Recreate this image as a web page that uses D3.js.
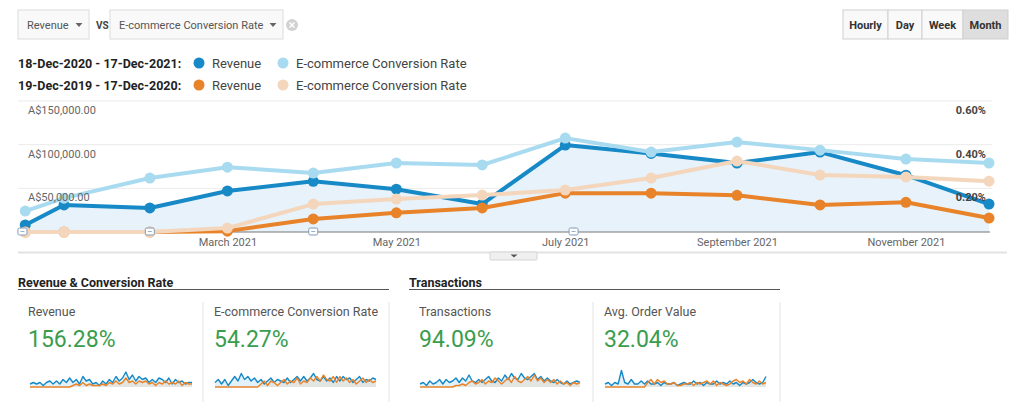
<!DOCTYPE html>
<html lang="en">
  <head>
    <meta charset="UTF-8" />
    <title>Revenue vs E-commerce Conversion Rate</title>
    <style>
      body { margin: 0; background: #fff; }
      svg text { font-family: Roboto, "Open Sans", sans-serif; }
    </style>
  </head>
  <body>
    <svg id="svg" width="1028" height="418"></svg>

    <script src="https://cdn.jsdelivr.net/npm/d3@7"></script>
    <script>
      const WIDTH = 1028;
      const HEIGHT = 418;

      // main chart data (one point per month, first is the partial start date)
      const DATES = [
        "2020-12-18", "2021-01-01", "2021-02-01", "2021-03-01", "2021-04-01",
        "2021-05-01", "2021-06-01", "2021-07-01", "2021-08-01", "2021-09-01",
        "2021-10-01", "2021-11-01", "2021-12-01",
      ];
      const REVENUE = [8000, 31000, 27500, 47000, 58000, 49000, 32000, 99500, 90000, 79000, 91500, 65000, 32000];
      const CONV_RATE = [0.096, 0.155, 0.247, 0.297, 0.27, 0.316, 0.307, 0.43, 0.366, 0.412, 0.375, 0.334, 0.316];
      const REVENUE_PREV = [0, 0, 0, 1000, 15000, 22000, 27500, 44500, 44500, 42000, 31000, 34000, 16000];
      const CONV_RATE_PREV = [0, 0, 0, 0.018, 0.128, 0.151, 0.169, 0.192, 0.247, 0.325, 0.261, 0.252, 0.233];

      const LEFT_TICKS = [50000, 100000, 150000];
      const RIGHT_TICKS = [0.2, 0.4, 0.6];
      const X_TICKS = ["2021-03-01", "2021-05-01", "2021-07-01", "2021-09-01", "2021-11-01"];
      const ANNOTATIONS = ["2020-12-17", "2021-02-01", "2021-04-01", "2021-07-04"];

      const PERIODS = ["18-Dec-2020 - 17-Dec-2021:", "19-Dec-2019 - 17-Dec-2020:"];
      const METRICS = ["Revenue", "E-commerce Conversion Rate"];
      const GRANULARITY = ["Hourly", "Day", "Week", "Month"];

      const KPI_GROUPS = ["Revenue & Conversion Rate", "Transactions"];
      const KPI_NAMES = ["Revenue", "E-commerce Conversion Rate", "Transactions", "Avg. Order Value"];
      const KPI_CHANGES = ["156.28%", "54.27%", "94.09%", "32.04%"];

      // sparklines (rough daily shape, 0-10 scale)
      const REV_SPARK = [2,3,2,3,1,3,4,2,4,2,5,3,6,3,5,2,7,4,5,2,3,1,4,2,5,3,7,4,6,10,5,8,4,7,5,6,3,5,3,6,5,3,6,2,5,3,4,2,3,3];
      const REV_SPARK_PREV = [0,0,0,0,0,0,0,0,0,0,0,0,0,1,2,1,3,1,2,1,1,1,2,1,3,2,4,2,3,6,3,4,2,4,3,4,2,3,1,3,2,4,2,3,2,4,1,3,2,2];
      const CONV_SPARK = [3,5,2,5,1,4,7,4,9,5,7,4,6,3,5,2,4,6,3,5,4,3,6,3,5,7,4,7,4,6,9,5,4,7,4,6,3,7,4,7,5,6,3,5,7,3,5,4,6,5];
      const CONV_SPARK_PREV = [0,0,0,0,0,0,0,0,0,0,0,0,0,0,2,4,1,4,3,1,3,5,2,4,3,6,2,4,3,6,4,7,4,8,5,4,7,3,7,4,6,3,5,2,4,6,3,5,3,4];
      const TRANS_SPARK = [2,3,1,4,2,3,5,2,5,3,4,6,3,6,4,8,4,3,5,3,5,7,4,3,6,4,8,5,9,6,5,9,6,5,7,9,5,7,4,6,4,3,5,3,2,4,2,3,4,3];
      const TRANS_SPARK_PREV = [0,0,0,0,0,0,0,0,0,0,0,1,1,2,1,3,4,2,3,5,2,4,3,6,4,2,4,6,3,7,4,3,5,7,4,8,4,6,3,5,3,5,2,4,2,3,1,3,2,3];
      const AOV_SPARK = [2,3,1,3,2,11,3,2,5,2,2,4,2,4,2,2,3,1,3,2,2,3,1,2,3,2,2,4,2,3,1,3,2,2,4,2,3,2,4,2,3,1,3,2,3,5,3,2,3,7];
      const AOV_SPARK_PREV = [0,0,0,0,0,0,0,0,0,0,0,0,0,3,5,2,5,3,4,2,2,3,1,1,2,2,3,1,3,2,3,4,2,4,1,3,2,1,2,4,5,3,4,2,5,3,2,4,2,3];

      const BLUE = "#1689c6";
      const LIGHT_BLUE = "#a9dbf0";
      const ORANGE = "#e8832a";
      const PEACH = "#f4d6bd";

      const parse = d3.timeParse("%Y-%m-%d");
      const svg = d3.select("#svg");

      // ---------- top controls ----------
      function dropdown(x, w, label) {
        const g = svg.append("g");
        g.append("rect").attr("x", x).attr("y", 10).attr("width", w).attr("height", 29)
          .attr("fill", "#f9f9f9").attr("stroke", "#dcdcdc");
        g.append("text").attr("x", x + 9).attr("y", 29).attr("font-size", 11)
          .attr("fill", "#555").text(label);
        const ax = x + w - 10;
        g.append("path").attr("d", `M${ax - 3.5},23 L${ax + 3.5},23 L${ax},27 Z`).attr("fill", "#666");
      }
      dropdown(18, 71, METRICS[0]);
      svg.append("text").attr("x", 96).attr("y", 28.5).attr("font-size", 10)
        .attr("font-weight", "bold").attr("fill", "#444").text("VS");
      dropdown(110, 173, METRICS[1]);
      svg.append("circle").attr("cx", 292).attr("cy", 25).attr("r", 6).attr("fill", "#d2d2d2");
      svg.append("path").attr("d", "M289.5,22.5 L294.5,27.5 M294.5,22.5 L289.5,27.5")
        .attr("stroke", "#fff").attr("stroke-width", 1.5);

      // granularity buttons
      const BTN_EDGES = [843, 888, 922, 963, 1008];
      GRANULARITY.forEach((label, i) => {
        const x0 = BTN_EDGES[i];
        const x1 = BTN_EDGES[i + 1];
        const active = i === GRANULARITY.length - 1;
        svg.append("rect").attr("x", x0).attr("y", 10).attr("width", x1 - x0).attr("height", 29)
          .attr("fill", active ? "#dedede" : "#f9f9f9").attr("stroke", "#cfcfcf");
        svg.append("text").attr("x", (x0 + x1) / 2).attr("y", 28.5).attr("text-anchor", "middle")
          .attr("font-size", 11).attr("font-weight", "bold").attr("fill", "#333").text(label);
      });

      // ---------- legend ----------
      const legendColors = [[BLUE, LIGHT_BLUE], [ORANGE, PEACH]];
      PERIODS.forEach((period, i) => {
        const cy = 63 + i * 22;
        svg.append("text").attr("x", 18).attr("y", cy + 4.5).attr("font-size", 12.5)
          .attr("font-weight", "bold").attr("fill", "#222").text(period);
        METRICS.forEach((m, j) => {
          const dx = j === 0 ? 199 : 283;
          svg.append("circle").attr("cx", dx).attr("cy", cy).attr("r", 5.5).attr("fill", legendColors[i][j]);
          svg.append("text").attr("x", dx + 13).attr("y", cy + 4.5).attr("font-size", 13)
            .attr("fill", "#444").text(m);
        });
      });

      // ---------- main chart ----------
      const x = d3.scaleTime()
        .domain([parse("2021-01-01"), parse("2021-12-01")])
        .range([64, 989]);
      const yLeft = d3.scaleLinear().domain([0, 150000]).range([232, 101]);
      const yRight = d3.scaleLinear().domain([0, 0.6]).range([232, 101]);

      const grid = svg.append("g");
      LEFT_TICKS.forEach((t) => {
        grid.append("line").attr("x1", 18).attr("x2", 992)
          .attr("y1", yLeft(t)).attr("y2", yLeft(t))
          .attr("stroke", "#ebebeb");
      });

      // x axis
      const xAxis = d3.axisBottom(x)
        .tickValues(X_TICKS.map(parse))
        .tickSize(0).tickPadding(6)
        .tickFormat(d3.timeFormat("%B %Y"));
      svg.append("g").attr("transform", "translate(0, 232)").call(xAxis)
        .call((g) => g.select(".domain").remove())
        .call((g) => g.selectAll("text").attr("font-size", 11).attr("fill", "#666"));

      const toSeries = (values) => DATES.map((d, i) => ({ date: parse(d), value: values[i] }));
      const revData = toSeries(REVENUE);
      const convData = toSeries(CONV_RATE);
      const revPrevData = toSeries(REVENUE_PREV);
      const convPrevData = toSeries(CONV_RATE_PREV);

      const area = d3.area()
        .x((d) => x(d.date))
        .y0(yLeft(0))
        .y1((d) => yLeft(d.value));
      svg.append("path").attr("d", area(revData)).attr("fill", "#e7f2fa");

      svg.append("line").attr("x1", 20).attr("x2", 990).attr("y1", 232).attr("y2", 232)
        .attr("stroke", "#777").attr("stroke-width", 1);

      function drawSeries(data, yScale, color) {
        const line = d3.line().x((d) => x(d.date)).y((d) => yScale(d.value));
        const g = svg.append("g");
        g.append("path").attr("d", line(data)).attr("fill", "none")
          .attr("stroke", color).attr("stroke-width", 4).attr("stroke-linejoin", "round");
        g.selectAll("circle").data(data).join("circle")
          .attr("cx", (d) => x(d.date)).attr("cy", (d) => yScale(d.value))
          .attr("r", 5.5).attr("fill", color);
      }
      drawSeries(revData, yLeft, BLUE);
      drawSeries(convData, yRight, LIGHT_BLUE);
      drawSeries(revPrevData, yLeft, ORANGE);
      drawSeries(convPrevData, yRight, PEACH);

      // axis labels sit on top of the lines
      const fmtMoney = d3.format(",.2f");
      svg.append("g").selectAll("text").data(LEFT_TICKS).join("text")
        .attr("x", 28).attr("y", (d) => yLeft(d) + 13)
        .attr("font-size", 11).attr("fill", "#666")
        .text((d) => "A$" + fmtMoney(d));

      svg.append("g").selectAll("text").data(RIGHT_TICKS).join("text")
        .attr("x", 986).attr("y", (d) => yRight(d) + 13).attr("text-anchor", "end")
        .attr("font-size", 11).attr("font-weight", "bold").attr("fill", "#444")
        .text((d) => d3.format(".2f")(d) + "%");

      // annotation markers on the baseline
      const ann = svg.append("g").selectAll("g").data(ANNOTATIONS.map(parse)).join("g")
        .attr("transform", (d) => `translate(${x(d)}, 232)`);
      ann.append("rect").attr("x", -4.5).attr("y", -4).attr("width", 9).attr("height", 7).attr("rx", 1.5)
        .attr("fill", "#fff").attr("stroke", "#7f9cb8").attr("stroke-width", 1);
      ann.append("line").attr("x1", -2).attr("x2", 2).attr("y1", -0.5).attr("y2", -0.5)
        .attr("stroke", "#7f9cb8").attr("stroke-width", 0.8);

      // bottom separator and collapse tab
      svg.append("line").attr("x1", 18).attr("x2", 1007).attr("y1", 252.5).attr("y2", 252.5)
        .attr("stroke", "#e2e2e2").attr("stroke-width", 2);
      svg.append("rect").attr("x", 490).attr("y", 252).attr("width", 47).attr("height", 8).attr("rx", 1)
        .attr("fill", "#efefef").attr("stroke", "#d5d5d5");
      svg.append("path").attr("d", "M510.5,254.5 L517.5,254.5 L514,257.5 Z").attr("fill", "#555");

      // ---------- KPI panels ----------
      const GROUP_X = [[18, 389], [409, 780]];
      KPI_GROUPS.forEach((title, i) => {
        svg.append("text").attr("x", GROUP_X[i][0]).attr("y", 286.5).attr("font-size", 12.5)
          .attr("font-weight", "bold").attr("fill", "#222").text(title);
        svg.append("line").attr("x1", GROUP_X[i][0]).attr("x2", GROUP_X[i][1])
          .attr("y1", 289.5).attr("y2", 289.5).attr("stroke", "#555");
      });

      [203, 389, 593, 780].forEach((dx) => {
        svg.append("line").attr("x1", dx).attr("x2", dx).attr("y1", 302).attr("y2", 402)
          .attr("stroke", "#e4e4e4");
      });

      const PANEL_X = [28, 214, 419, 604];
      const SPARK_RANGE = [[30, 192], [215, 376], [420, 580], [605, 766]];
      const SPARKS = [
        [REV_SPARK, REV_SPARK_PREV],
        [CONV_SPARK, CONV_SPARK_PREV],
        [TRANS_SPARK, TRANS_SPARK_PREV],
        [AOV_SPARK, AOV_SPARK_PREV],
      ];
      KPI_NAMES.forEach((name, i) => {
        svg.append("text").attr("x", PANEL_X[i]).attr("y", 315.5).attr("font-size", 12.5)
          .attr("fill", "#555").text(name);
        svg.append("text").attr("x", PANEL_X[i]).attr("y", 347).attr("font-size", 23)
          .attr("fill", "#3a9d4e").text(KPI_CHANGES[i]);

        const [cur, prev] = SPARKS[i];
        const sx = d3.scaleLinear().domain([0, cur.length - 1]).range(SPARK_RANGE[i]);
        const sy = d3.scaleLinear().domain([0, 10]).range([387, 372]);
        const sArea = d3.area().x((d, k) => sx(k)).y0(sy(0)).y1((d) => sy(d));
        const sLine = d3.line().x((d, k) => sx(k)).y((d) => sy(d));
        const g = svg.append("g");
        g.append("path").attr("d", sArea(cur)).attr("fill", BLUE).attr("opacity", 0.12);
        g.append("path").attr("d", sArea(prev)).attr("fill", ORANGE).attr("opacity", 0.1);
        g.append("path").attr("d", sLine(cur)).attr("fill", "none").attr("stroke", BLUE)
          .attr("stroke-width", 1.4).attr("stroke-linejoin", "round");
        g.append("path").attr("d", sLine(prev)).attr("fill", "none").attr("stroke", ORANGE)
          .attr("stroke-width", 1.4).attr("stroke-linejoin", "round");
      });
    </script>
  </body>
</html>
